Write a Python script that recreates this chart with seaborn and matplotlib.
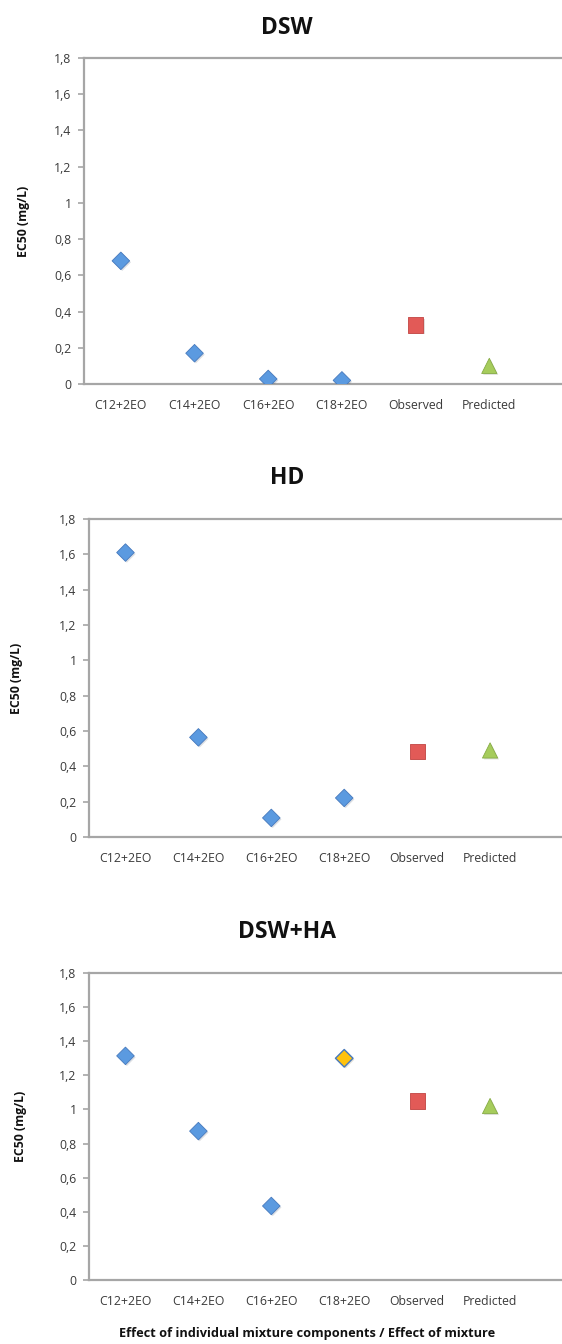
import matplotlib
matplotlib.use("Agg")
import matplotlib.pyplot as plt
import matplotlib.patheffects as pe
import seaborn as sns
import pandas as pd

# Categories on the x axis
components = ["C12+2EO", "C14+2EO", "C16+2EO", "C18+2EO"]
mixture = ["Observed", "Predicted"]
yticks = [0, 0.2, 0.4, 0.6, 0.8, 1.0, 1.2, 1.4, 1.6, 1.8]
ytick_labels = ["0", "0,2", "0,4", "0,6", "0,8", "1", "1,2", "1,4", "1,6", "1,8"]

# EC50 (mg/L) per medium
titles = ["DSW", "HD", "DSW+HA"]
dsw_components = [0.68, 0.17, 0.028, 0.02]
dsw_observed = 0.326
dsw_predicted = 0.10
hd_components = [1.61, 0.564, 0.108, 0.221]
hd_observed = 0.486
hd_predicted = 0.49
dswha_components = [1.314, 0.873, 0.434, 1.30]
dswha_observed = 1.05
dswha_predicted = 1.02
# component drawn in yellow in the DSW+HA panel
dswha_highlight = "C18+2EO"

panels = [
    (titles[0], dsw_components, dsw_observed, dsw_predicted, None),
    (titles[1], hd_components, hd_observed, hd_predicted, None),
    (titles[2], dswha_components, dswha_observed, dswha_predicted, dswha_highlight),
]

sns.set_theme(style="white")
plt.rcParams["font.family"] = ["Open Sans", "DejaVu Sans"]

W, H = 562, 1344
fig = plt.figure(figsize=(W / 100, H / 100), dpi=100)

# axes boxes in pixels: left, top, bottom
boxes = [(84, 58, 384), (89, 519, 837), (89, 973, 1280)]
title_y = [28, 478, 932]
ylabel_x = [23, 16, 20]

BLUE, BLUE_EDGE = "#5b9ae0", "#4679bd"
RED, RED_EDGE = "#e25a57", "#c24542"
GREEN, GREEN_EDGE = "#a6cc5c", "#86ab45"
YELLOW = "#ffc20e"
GREY = "#a6a6a6"
TXT = "#3a3a3a"
shadow = [pe.SimplePatchShadow(offset=(1.0, -1.0), alpha=0.15), pe.Normal()]

for (title, comp, obs, pred, hl), (l, t, b), ty, yx in zip(panels, boxes, title_y, ylabel_x):
    ax = fig.add_axes([l / W, 1 - b / H, (W - l + 1) / W, (b - t) / H])
    order = components + mixture
    df_c = pd.DataFrame({"cat": components, "ec50": comp})
    df_c["hl"] = df_c["cat"] == hl
    df_o = pd.DataFrame({"cat": [mixture[0]], "ec50": [obs]})
    df_p = pd.DataFrame({"cat": [mixture[1]], "ec50": [pred]})

    sns.scatterplot(data=df_c[~df_c["hl"]], x="cat", y="ec50", marker="D", s=80,
                    color=BLUE, edgecolor=BLUE_EDGE, linewidth=0.6, ax=ax, zorder=3)
    if df_c["hl"].any():
        sns.scatterplot(data=df_c[df_c["hl"]], x="cat", y="ec50", marker="D", s=80,
                        color=YELLOW, edgecolor=BLUE_EDGE, linewidth=1.0, ax=ax, zorder=3)
    sns.scatterplot(data=df_o, x="cat", y="ec50", marker="s", s=120,
                    color=RED, edgecolor=RED_EDGE, linewidth=0.6, ax=ax, zorder=3)
    sns.scatterplot(data=df_p, x="cat", y="ec50", marker="^", s=120,
                    color=GREEN, edgecolor=GREEN_EDGE, linewidth=0.6, ax=ax, zorder=3)
    for coll in ax.collections:
        coll.set_path_effects(shadow)

    ax.set_xlim(-0.5, 6.0)
    ax.set_ylim(0, 1.8)
    ax.set_xticks(range(len(order)))
    ax.set_xticklabels(order, fontsize=8.8, color=TXT)
    ax.set_xticks([i - 0.5 for i in range(len(order) + 1)], minor=True)
    ax.tick_params(axis="x", which="major", length=0, pad=11)
    ax.tick_params(axis="x", which="minor", length=4, color=GREY, width=1.2, direction="out")
    ax.set_yticks(yticks)
    ax.set_yticklabels(ytick_labels, fontsize=8.8, color=TXT)
    ax.tick_params(axis="y", length=4, color=GREY, width=1.2, direction="out", left=True, pad=5)

    for side in ["left", "bottom", "top"]:
        ax.spines[side].set_visible(True)
        ax.spines[side].set_color(GREY)
        ax.spines[side].set_linewidth(1.6)
    ax.spines["right"].set_visible(False)

    ax.set_xlabel("")
    ax.set_ylabel("EC50 (mg/L)", fontsize=8.8, fontweight="bold", color="#111111")
    ax.yaxis.set_label_coords((yx + 7 - l) / (W - l + 1), 0.5)

    fig.text(287 / W, 1 - ty / H, title, ha="center", va="center",
             fontsize=16.5, fontweight="bold", color="#111111")

fig.text(307 / W, 1 - 1333 / H, "Effect of individual mixture components / Effect of mixture",
         ha="center", va="center", fontsize=9.2, fontweight="bold", color="#111111")

fig.savefig("out.png", dpi=100, facecolor="white")
